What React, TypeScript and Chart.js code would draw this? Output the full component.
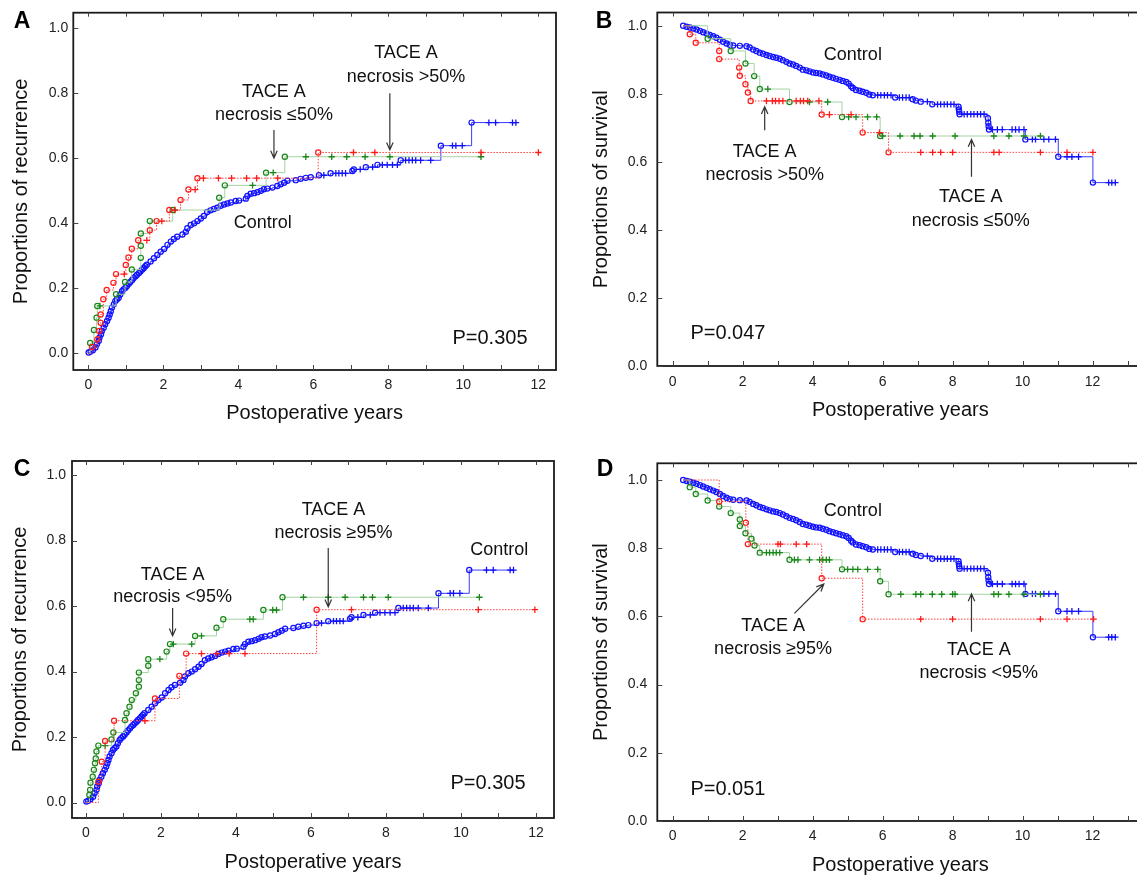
import React, { useEffect, useRef } from 'react';
import { Chart, registerables } from 'chart.js';

Chart.register(...registerables);

const FONT = '"Liberation Sans", Arial, Helvetica, sans-serif';

// rows: [years, proportion, mark]  mark: 1 = event (circle), 0 = censored (+), -1 = curve start
type Row = [number, number, number];

const RECUR_CONTROL: Row[] = [
  [0, 0, -1], [0.01, 0.003, 1], [0.06, 0.006, 1], [0.12, 0.01, 1], [0.19, 0.018, 1], [0.23, 0.029, 1],
  [0.28, 0.039, 1], [0.3, 0.049, 1], [0.34, 0.059, 1], [0.36, 0.069, 1], [0.41, 0.079, 1], [0.45, 0.09, 1],
  [0.5, 0.1, 1], [0.54, 0.11, 1], [0.57, 0.12, 1], [0.6, 0.13, 1], [0.63, 0.141, 1], [0.68, 0.151, 1],
  [0.72, 0.161, 1], [0.76, 0.166, 1], [0.81, 0.171, 1], [0.85, 0.181, 1], [0.9, 0.191, 1], [0.94, 0.197, 1],
  [0.99, 0.202, 1], [1.03, 0.207, 1], [1.08, 0.214, 1], [1.12, 0.22, 1], [1.17, 0.226, 1], [1.21, 0.232, 1],
  [1.26, 0.237, 1], [1.3, 0.242, 1], [1.35, 0.247, 1], [1.39, 0.252, 1], [1.44, 0.258, 1], [1.48, 0.263, 1],
  [1.52, 0.268, 1], [1.56, 0.273, 1], [1.66, 0.283, 1], [1.75, 0.293, 1], [1.84, 0.303, 1], [1.93, 0.313, 1],
  [2.02, 0.321, 1], [2.11, 0.334, 1], [2.2, 0.344, 1], [2.28, 0.352, 1], [2.37, 0.359, 1], [2.51, 0.366, 1],
  [2.6, 0.374, 1], [2.64, 0.385, 1], [2.73, 0.395, 1], [2.82, 0.4, 1], [2.91, 0.407, 1], [3.0, 0.415, 1],
  [3.08, 0.423, 1], [3.17, 0.435, 1], [3.26, 0.44, 1], [3.35, 0.444, 1], [3.44, 0.448, 1], [3.53, 0.454, 1],
  [3.62, 0.458, 1], [3.71, 0.461, 1], [3.8, 0.464, 1], [3.93, 0.469, 1], [4.02, 0.47, 1], [4.2, 0.476, 1],
  [4.24, 0.484, 1], [4.33, 0.491, 1], [4.42, 0.493, 1], [4.51, 0.496, 1], [4.6, 0.5, 1], [4.68, 0.505, 1],
  [4.77, 0.507, 1], [4.91, 0.51, 1], [5.04, 0.515, 1], [5.13, 0.52, 1], [5.22, 0.525, 1], [5.31, 0.531, 1],
  [5.53, 0.533, 1], [5.66, 0.537, 1], [5.8, 0.54, 1], [5.93, 0.542, 1], [6.15, 0.548, 1], [6.28, 0.548, 0],
  [6.46, 0.554, 1], [6.6, 0.554, 0], [6.68, 0.554, 0], [6.77, 0.554, 0], [6.86, 0.554, 0], [7.04, 0.561, 1],
  [7.08, 0.566, 1], [7.25, 0.566, 0], [7.4, 0.573, 1], [7.58, 0.573, 0], [7.71, 0.58, 1], [7.84, 0.58, 0],
  [7.97, 0.58, 0], [8.11, 0.58, 0], [8.24, 0.58, 0], [8.33, 0.594, 1], [8.46, 0.594, 0], [8.55, 0.594, 0],
  [8.64, 0.594, 0], [8.73, 0.594, 0], [8.86, 0.594, 0], [9.13, 0.594, 0], [9.4, 0.639, 1], [9.71, 0.639, 0],
  [9.8, 0.639, 0], [9.97, 0.639, 0], [10.22, 0.71, 1], [10.68, 0.71, 0], [10.86, 0.71, 0], [11.31, 0.71, 0],
  [11.4, 0.71, 0],
];

const RECUR_NEC_GT50: Row[] = [
  [0, 0, -1], [0.1, 0.02, 1], [0.24, 0.043, 1], [0.29, 0.069, 1], [0.33, 0.094, 1], [0.33, 0.12, 1],
  [0.4, 0.167, 1], [0.49, 0.195, 1], [0.67, 0.217, 1], [0.74, 0.244, 1], [0.96, 0.244, 0], [1.0, 0.272, 1],
  [1.07, 0.295, 1], [1.16, 0.322, 1], [1.33, 0.348, 1], [1.56, 0.348, 0], [1.64, 0.379, 1], [1.82, 0.407, 1],
  [1.96, 0.407, 0], [2.16, 0.441, 1], [2.3, 0.441, 0], [2.46, 0.472, 1], [2.67, 0.504, 1], [2.85, 0.504, 0],
  [2.91, 0.539, 1], [3.07, 0.539, 0], [3.47, 0.539, 0], [3.82, 0.539, 0], [4.22, 0.539, 0], [4.49, 0.539, 0],
  [5.05, 0.539, 0], [6.13, 0.618, 1], [7.07, 0.618, 0], [7.64, 0.618, 0], [10.47, 0.618, 0], [12.0, 0.618, 0],
];

const RECUR_NEC_LE50: Row[] = [
  [0, 0, -1], [0.05, 0.032, 1], [0.15, 0.072, 1], [0.22, 0.11, 1], [0.24, 0.146, 1], [0.31, 0.146, 0],
  [0.74, 0.182, 1], [0.98, 0.22, 1], [1.16, 0.258, 1], [1.4, 0.294, 1], [1.4, 0.331, 1], [1.4, 0.369, 1],
  [1.64, 0.407, 1], [2.25, 0.441, 1], [2.31, 0.441, 0], [3.49, 0.479, 1], [3.64, 0.517, 1], [4.38, 0.517, 0],
  [4.74, 0.556, 1], [4.93, 0.556, 0], [5.24, 0.605, 1], [5.8, 0.605, 0], [6.49, 0.605, 0], [6.89, 0.605, 0],
  [7.38, 0.605, 0], [8.04, 0.605, 0], [10.47, 0.605, 0],
];

const RECUR_NEC_GE95: Row[] = [
  [0, 0, -1], [0.33, 0.064, 1], [0.42, 0.125, 1], [0.51, 0.188, 1], [0.75, 0.25, 1], [1.57, 0.25, 0],
  [1.84, 0.318, 1], [2.49, 0.387, 1], [2.67, 0.455, 1], [3.08, 0.455, 0], [3.48, 0.455, 0], [3.82, 0.455, 0],
  [4.24, 0.455, 0], [6.15, 0.589, 1], [7.08, 0.589, 0], [10.46, 0.589, 0], [11.97, 0.589, 0],
];

const RECUR_NEC_LT95: Row[] = [
  [0, 0, -1], [0.09, 0.023, 1], [0.11, 0.039, 1], [0.12, 0.061, 1], [0.18, 0.079, 1], [0.21, 0.1, 1],
  [0.24, 0.12, 1], [0.26, 0.135, 1], [0.28, 0.156, 1], [0.33, 0.174, 1], [0.51, 0.174, 0], [0.68, 0.193, 1],
  [0.73, 0.214, 1], [1.04, 0.252, 1], [1.08, 0.273, 1], [1.16, 0.293, 1], [1.22, 0.313, 1], [1.33, 0.334, 1],
  [1.41, 0.354, 1], [1.41, 0.374, 1], [1.41, 0.397, 1], [1.66, 0.418, 1], [1.66, 0.438, 1], [1.97, 0.438, 0],
  [2.15, 0.461, 1], [2.24, 0.484, 1], [2.33, 0.484, 0], [2.82, 0.484, 0], [2.91, 0.509, 1], [3.08, 0.509, 0],
  [3.48, 0.534, 1], [3.66, 0.56, 1], [4.37, 0.56, 0], [4.46, 0.56, 0], [4.73, 0.588, 1], [4.98, 0.588, 0],
  [5.08, 0.588, 0], [5.24, 0.627, 1], [5.8, 0.627, 0], [6.46, 0.627, 0], [6.91, 0.627, 0], [7.4, 0.627, 0],
  [7.64, 0.627, 0], [8.06, 0.627, 0], [10.49, 0.627, 0],
];

const SURV_CONTROL: Row[] = [
  [0.3, 1.0, 1], [0.4, 0.997, 1], [0.49, 0.995, 1], [0.59, 0.992, 1], [0.68, 0.989, 1], [0.78, 0.985, 1],
  [0.87, 0.981, 1], [0.97, 0.977, 1], [1.06, 0.973, 1], [1.16, 0.969, 1], [1.25, 0.965, 1], [1.35, 0.959, 1],
  [1.44, 0.953, 1], [1.54, 0.948, 1], [1.63, 0.944, 1], [1.73, 0.942, 1], [1.92, 0.941, 1], [2.11, 0.94, 1],
  [2.2, 0.936, 1], [2.3, 0.93, 1], [2.39, 0.926, 1], [2.49, 0.921, 1], [2.58, 0.918, 1], [2.68, 0.914, 1],
  [2.77, 0.911, 1], [2.87, 0.908, 1], [2.96, 0.906, 1], [3.06, 0.903, 1], [3.15, 0.899, 1], [3.25, 0.894, 1],
  [3.34, 0.889, 1], [3.44, 0.886, 1], [3.53, 0.882, 1], [3.63, 0.877, 1], [3.72, 0.871, 1], [3.82, 0.869, 1],
  [3.91, 0.866, 1], [4.01, 0.863, 1], [4.1, 0.861, 1], [4.2, 0.86, 1], [4.29, 0.857, 1], [4.39, 0.854, 1],
  [4.48, 0.85, 1], [4.58, 0.847, 1], [4.67, 0.844, 1], [4.77, 0.841, 1], [4.86, 0.838, 1], [4.96, 0.835, 1],
  [5.03, 0.83, 1], [5.1, 0.822, 1], [5.15, 0.817, 1], [5.24, 0.811, 1], [5.34, 0.809, 1], [5.43, 0.806, 1],
  [5.53, 0.803, 1], [5.62, 0.798, 1], [5.72, 0.796, 1], [5.86, 0.796, 0], [5.95, 0.796, 0], [6.05, 0.796, 0],
  [6.14, 0.796, 0], [6.24, 0.796, 0], [6.36, 0.789, 1], [6.48, 0.789, 0], [6.57, 0.789, 0], [6.67, 0.789, 0],
  [6.76, 0.789, 0], [6.86, 0.784, 1], [6.95, 0.78, 1], [7.09, 0.777, 1], [7.28, 0.777, 0], [7.42, 0.769, 1],
  [7.57, 0.769, 0], [7.66, 0.769, 0], [7.76, 0.769, 0], [7.85, 0.769, 0], [7.95, 0.769, 0], [8.04, 0.769, 0],
  [8.17, 0.762, 1], [8.18, 0.754, 1], [8.19, 0.747, 1], [8.2, 0.74, 1], [8.33, 0.74, 0], [8.42, 0.74, 0],
  [8.52, 0.74, 0], [8.61, 0.74, 0], [8.71, 0.74, 0], [8.8, 0.74, 0], [8.9, 0.74, 0], [9.01, 0.728, 1],
  [9.02, 0.715, 1], [9.03, 0.705, 1], [9.04, 0.695, 1], [9.14, 0.695, 0], [9.28, 0.695, 0], [9.42, 0.695, 0],
  [9.7, 0.695, 0], [9.8, 0.695, 0], [9.9, 0.695, 0], [10.04, 0.695, 0], [10.08, 0.666, 1], [10.28, 0.666, 0],
  [10.37, 0.666, 0], [10.61, 0.666, 0], [10.75, 0.666, 0], [10.94, 0.666, 0], [11.02, 0.615, 1], [11.27, 0.615, 0],
  [11.41, 0.615, 0], [11.6, 0.615, 0], [12.01, 0.539, 1], [12.46, 0.539, 0], [12.55, 0.539, 0], [12.65, 0.539, 0],
];

const SURV_NEC_GT50: Row[] = [
  [0.3, 1, -1], [0.49, 0.975, 1], [0.66, 0.95, 1], [1.33, 0.926, 1], [1.33, 0.902, 1], [1.9, 0.877, 1],
  [1.92, 0.853, 1], [2.08, 0.828, 1], [2.15, 0.804, 1], [2.23, 0.779, 1], [2.68, 0.779, 0], [2.85, 0.779, 0],
  [2.94, 0.779, 0], [3.04, 0.779, 0], [3.15, 0.779, 0], [3.53, 0.779, 0], [3.65, 0.779, 0], [3.74, 0.779, 0],
  [3.86, 0.779, 0], [4.18, 0.779, 0], [4.26, 0.739, 1], [4.48, 0.739, 0], [5.1, 0.739, 0], [5.43, 0.686, 1],
  [5.91, 0.686, 0], [6.17, 0.628, 1], [7.09, 0.628, 0], [7.43, 0.628, 0], [7.66, 0.628, 0], [8.0, 0.628, 0],
  [9.18, 0.628, 0], [9.33, 0.628, 0], [10.51, 0.628, 0], [11.27, 0.628, 0], [12.01, 0.628, 0],
];

const SURV_NEC_LE50: Row[] = [
  [0.3, 1, -1], [1.0, 0.962, 1], [1.66, 0.926, 1], [2.08, 0.889, 1], [2.33, 0.852, 1], [2.49, 0.814, 1],
  [2.72, 0.814, 0], [3.34, 0.776, 1], [3.91, 0.776, 0], [4.43, 0.776, 0], [4.84, 0.732, 1], [5.03, 0.732, 0],
  [5.24, 0.732, 0], [5.57, 0.732, 0], [5.83, 0.732, 0], [5.93, 0.676, 1], [6.0, 0.676, 0], [6.5, 0.676, 0],
  [6.9, 0.676, 0], [7.07, 0.676, 0], [7.43, 0.676, 0], [8.07, 0.676, 0], [9.18, 0.676, 0], [9.61, 0.676, 0],
  [10.04, 0.676, 0], [10.51, 0.676, 0],
];

const SURV_NEC_GE95: Row[] = [
  [0.3, 1, -1], [1.33, 0.937, 1], [2.09, 0.875, 1], [2.15, 0.812, 1], [3.01, 0.812, 0], [3.08, 0.812, 0],
  [3.53, 0.812, 0], [3.83, 0.812, 0], [4.26, 0.712, 1], [5.43, 0.592, 1], [7.09, 0.592, 0], [8.0, 0.592, 0],
  [10.51, 0.592, 0], [11.27, 0.592, 0], [12.03, 0.592, 0],
];

const SURV_NEC_LT95: Row[] = [
  [0.3, 1, -1], [0.49, 0.979, 1], [0.66, 0.959, 1], [1.0, 0.94, 1], [1.33, 0.922, 1], [1.66, 0.903, 1],
  [1.92, 0.884, 1], [1.92, 0.865, 1], [2.08, 0.844, 1], [2.25, 0.828, 1], [2.34, 0.808, 1], [2.49, 0.787, 1],
  [2.68, 0.787, 0], [2.77, 0.787, 0], [2.87, 0.787, 0], [2.96, 0.787, 0], [3.06, 0.787, 0], [3.34, 0.766, 1],
  [3.48, 0.766, 0], [3.58, 0.766, 0], [3.91, 0.766, 0], [4.2, 0.766, 0], [4.29, 0.766, 0], [4.39, 0.766, 0],
  [4.48, 0.766, 0], [4.84, 0.738, 1], [5.0, 0.738, 0], [5.15, 0.738, 0], [5.29, 0.738, 0], [5.57, 0.738, 0],
  [5.86, 0.738, 0], [5.93, 0.703, 1], [6.17, 0.665, 1], [6.52, 0.665, 0], [6.95, 0.665, 0], [7.09, 0.665, 0],
  [7.42, 0.665, 0], [7.69, 0.665, 0], [8.0, 0.665, 0], [8.07, 0.665, 0], [9.18, 0.665, 0], [9.31, 0.665, 0],
  [9.61, 0.665, 0], [10.04, 0.665, 0], [10.51, 0.665, 0],
];

const X_LABELS = [0, 2, 4, 6, 8, 10, 12];
const Y_LABELS = [0, 0.2, 0.4, 0.6, 0.8, 1.0];

// annotations: [text, years, proportion]
const NOTES_A: [string, number, number][] = [
  ['TACE A', 4.95, 0.805], ['necrosis \u226450%', 4.95, 0.733],
  ['TACE A', 8.47, 0.924], ['necrosis >50%', 8.47, 0.85],
  ['Control', 4.65, 0.401],
];
const ARROWS_A: [number, number, number, number][] = [[4.95, 0.687, 4.95, 0.601], [8.04, 0.8, 8.04, 0.626]];
const P_A: [string, number, number] = ['P=0.305', 10.71, 0.047];

const NOTES_B: [string, number, number][] = [
  ['Control', 5.15, 0.913],
  ['TACE A', 2.63, 0.629], ['necrosis >50%', 2.63, 0.561],
  ['TACE A', 8.52, 0.497], ['necrosis \u226450%', 8.52, 0.427],
];
const ARROWS_B: [number, number, number, number][] = [[2.63, 0.693, 2.63, 0.762], [8.54, 0.556, 8.54, 0.666]];
const P_B: [string, number, number] = ['P=0.047', 1.58, 0.096];

const NOTES_C: [string, number, number][] = [
  ['TACE A', 2.31, 0.695], ['necrosis <95%', 2.31, 0.627],
  ['TACE A', 6.6, 0.892], ['necrosis \u226595%', 6.6, 0.824],
  ['Control', 11.02, 0.77],
];
const ARROWS_C: [number, number, number, number][] = [[2.31, 0.594, 2.31, 0.509], [6.46, 0.777, 6.46, 0.598]];
const P_C: [string, number, number] = ['P=0.305', 10.72, 0.057];

const NOTES_D: [string, number, number][] = [
  ['Control', 5.15, 0.91],
  ['TACE A', 2.87, 0.573], ['necrosis \u226595%', 2.87, 0.504],
  ['TACE A', 8.75, 0.501], ['necrosis <95%', 8.75, 0.435],
];
const ARROWS_D: [number, number, number, number][] = [[3.48, 0.609, 4.32, 0.695], [8.54, 0.555, 8.54, 0.666]];
const P_D: [string, number, number] = ['P=0.051', 1.58, 0.093];

const BLUE = '#1010ff';
const BLUE_LINE = '#3a3aff';
const RED = '#ff1a1a';
const RED_LINE = '#ff4040';
const GREEN = '#1a871a';
const GREEN_LINE = '#a3d3a3';

function km(rows: Row[], mark: string, line: string, dash: number[]) {
  return {
    data: rows.map((r) => ({ x: r[0], y: r[1] })),
    stepped: true,
    borderColor: line,
    borderWidth: 1,
    borderDash: dash,
    fill: false,
    tension: 0,
    pointStyle: rows.map((r) => (r[2] === 0 ? 'cross' : 'circle')),
    pointRadius: rows.map((r) => (r[2] < 0 ? 0 : r[2] === 0 ? 3.2 : 2.6)),
    pointBorderWidth: rows.map((r) => (r[2] === 0 ? 1.3 : 1.2)),
    pointBorderColor: mark,
    pointBackgroundColor: 'rgba(255,255,255,0)',
    pointHoverRadius: 0,
  };
}

interface PanelCfg {
  key: string;
  left: number; top: number; w: number; h: number;
  area: { l: number; t: number; r: number; b: number };
  x: [number, number]; y: [number, number];
  xTickMax: number;
  yTitle: string;
  yTitlePad: number; xTitlePad: number; yTickPad: number; xTickPad: number;
  letter: string; letterPos: [number, number];
  series: Row[][];
  notes: [string, number, number][];
  arrows: [number, number, number, number][];
  p: [string, number, number];
}

const PANELS: PanelCfg[] = [
  {
    key: 'A', left: 0, top: 0, w: 568, h: 440, area: { l: 73.3, t: 12.7, r: 556, b: 370 },
    x: [-0.4, 12.47], y: [-0.051, 1.048], xTickMax: 12, yTitle: 'Proportions of recurrence',
    yTitlePad: 9, xTitlePad: 15, yTickPad: 5, xTickPad: 7, letter: 'A', letterPos: [22, 22],
    series: [RECUR_NEC_GT50, RECUR_NEC_LE50, RECUR_CONTROL], notes: NOTES_A, arrows: ARROWS_A, p: P_A,
  },
  {
    key: 'B', left: 568, top: 0, w: 580, h: 440, area: { l: 89.3, t: 12.5, r: 577, b: 366 },
    x: [-0.439, 13.456], y: [0, 1.039], xTickMax: 13, yTitle: 'Proportions of survival',
    yTitlePad: 21, xTitlePad: 18, yTickPad: 10, xTickPad: 7.5, letter: 'B', letterPos: [36, 22],
    series: [SURV_NEC_GT50, SURV_NEC_LE50, SURV_CONTROL], notes: NOTES_B, arrows: ARROWS_B, p: P_B,
  },
  {
    key: 'C', left: 0, top: 440, w: 568, h: 439, area: { l: 72, t: 21, r: 554, b: 378 },
    x: [-0.373, 12.48], y: [-0.047, 1.043], xTickMax: 12, yTitle: 'Proportions of recurrence',
    yTitlePad: 8, xTitlePad: 5, yTickPad: 6, xTickPad: 6.6, letter: 'C', letterPos: [22, 30],
    series: [RECUR_NEC_GE95, RECUR_NEC_LT95, RECUR_CONTROL], notes: NOTES_C, arrows: ARROWS_C, p: P_C,
  },
  {
    key: 'D', left: 568, top: 440, w: 580, h: 439, area: { l: 89.3, t: 23.3, r: 577, b: 381 },
    x: [-0.439, 13.456], y: [0, 1.049], xTickMax: 13, yTitle: 'Proportions of survival',
    yTitlePad: 21, xTitlePad: 2, yTickPad: 10, xTickPad: 6.6, letter: 'D', letterPos: [37, 30],
    series: [SURV_NEC_GE95, SURV_NEC_LT95, SURV_CONTROL], notes: NOTES_D, arrows: ARROWS_D, p: P_D,
  },
];

function makeDecor(cfg: PanelCfg) {
  return {
    id: 'decor' + cfg.key,
    afterDraw(chart: any) {
      const { ctx, chartArea: a, scales } = chart;
      const xs = scales.x;
      const ys = scales.y;
      ctx.save();
      // frame
      ctx.strokeStyle = '#1a1a1a';
      ctx.lineWidth = 1.8;
      ctx.strokeRect(a.left, a.top, a.right - a.left, a.bottom - a.top);
      // inward ticks
      ctx.lineWidth = 1;
      ctx.strokeStyle = '#444';
      ctx.beginPath();
      for (let v = 0; v <= cfg.xTickMax; v++) {
        const px = Math.round(xs.getPixelForValue(v)) + 0.5;
        ctx.moveTo(px, a.bottom);
        ctx.lineTo(px, a.bottom - 5);
        ctx.moveTo(px, a.top);
        ctx.lineTo(px, a.top + 4);
      }
      for (const v of Y_LABELS) {
        const py = Math.round(ys.getPixelForValue(v)) + 0.5;
        ctx.moveTo(a.left, py);
        ctx.lineTo(a.left + 5, py);
      }
      ctx.stroke();
      // annotations
      ctx.fillStyle = '#111';
      ctx.textAlign = 'center';
      ctx.textBaseline = 'middle';
      ctx.font = `18px ${FONT}`;
      for (const n of cfg.notes) {
        ctx.fillText(n[0], xs.getPixelForValue(n[1]), ys.getPixelForValue(n[2]));
      }
      ctx.strokeStyle = '#333';
      ctx.lineWidth = 1.2;
      for (const ar of cfg.arrows) {
        const x1 = xs.getPixelForValue(ar[0]);
        const y1 = ys.getPixelForValue(ar[1]);
        const x2 = xs.getPixelForValue(ar[2]);
        const y2 = ys.getPixelForValue(ar[3]);
        const ang = Math.atan2(y2 - y1, x2 - x1);
        const hl = 8;
        const spread = 0.42;
        ctx.beginPath();
        ctx.moveTo(x1, y1);
        ctx.lineTo(x2, y2);
        ctx.moveTo(x2 - hl * Math.cos(ang - spread), y2 - hl * Math.sin(ang - spread));
        ctx.lineTo(x2, y2);
        ctx.lineTo(x2 - hl * Math.cos(ang + spread), y2 - hl * Math.sin(ang + spread));
        ctx.stroke();
      }
      ctx.font = `20px ${FONT}`;
      ctx.fillText(cfg.p[0], xs.getPixelForValue(cfg.p[1]), ys.getPixelForValue(cfg.p[2]));
      // panel letter
      ctx.font = `bold 23px ${FONT}`;
      ctx.fillStyle = '#000';
      ctx.fillText(cfg.letter, cfg.letterPos[0], cfg.letterPos[1]);
      ctx.restore();
    },
  };
}

function zeroPad(s: any) {
  s.paddingTop = 0;
  s.paddingBottom = 0;
  s.paddingLeft = 0;
  s.paddingRight = 0;
}

function Panel({ cfg }: { cfg: PanelCfg }) {
  const ref = useRef<HTMLCanvasElement>(null);
  useEffect(() => {
    const canvas = ref.current;
    if (!canvas) return;
    const [redRows, greenRows, blueRows] = cfg.series;
    const chart = new Chart(canvas, {
      type: 'line',
      data: {
        datasets: [
          km(redRows, RED, RED_LINE, [1.5, 1.5]),
          km(greenRows, GREEN, GREEN_LINE, []),
          km(blueRows, BLUE, BLUE_LINE, []),
        ] as any,
      },
      options: {
        responsive: false,
        animation: false,
        events: [],
        devicePixelRatio: 1,
        layout: { padding: { left: 0, top: cfg.area.t, right: cfg.w - cfg.area.r, bottom: 0 } },
        plugins: { legend: { display: false }, tooltip: { enabled: false } },
        scales: {
          x: {
            type: 'linear',
            min: cfg.x[0],
            max: cfg.x[1],
            afterBuildTicks: (s: any) => { s.ticks = X_LABELS.map((v) => ({ value: v })); },
            afterFit: (s: any) => { s.height = cfg.h - cfg.area.b; zeroPad(s); },
            ticks: {
              font: { family: FONT, size: 14 },
              color: '#222',
              padding: cfg.xTickPad,
              maxRotation: 0,
              autoSkip: false,
              callback: (v: any) => String(v),
            },
            grid: { display: false, drawTicks: false },
            border: { display: false },
            title: {
              display: true,
              text: 'Postoperative years',
              font: { family: FONT, size: 20 },
              color: '#111',
              padding: { top: 0, bottom: cfg.xTitlePad },
            },
          },
          y: {
            type: 'linear',
            min: cfg.y[0],
            max: cfg.y[1],
            afterBuildTicks: (s: any) => { s.ticks = Y_LABELS.map((v) => ({ value: v })); },
            afterFit: (s: any) => { s.width = cfg.area.l; zeroPad(s); },
            ticks: {
              font: { family: FONT, size: 14 },
              color: '#222',
              padding: cfg.yTickPad,
              autoSkip: false,
              callback: (v: any) => Number(v).toFixed(1),
            },
            grid: { display: false, drawTicks: false },
            border: { display: false },
            title: {
              display: true,
              text: cfg.yTitle,
              font: { family: FONT, size: 20 },
              color: '#111',
              padding: { top: cfg.yTitlePad, bottom: 0 },
            },
          },
        },
      },
      plugins: [makeDecor(cfg)],
    } as any);
    return () => chart.destroy();
  }, [cfg]);
  return (
    <canvas
      ref={ref}
      width={cfg.w}
      height={cfg.h}
      style={{ position: 'absolute', left: cfg.left, top: cfg.top, width: cfg.w, height: cfg.h }}
    />
  );
}

export default function App() {
  return (
    <div
      style={{
        position: 'absolute', left: 0, top: 0, width: 1137, height: 879,
        overflow: 'hidden', background: '#fff',
      }}
    >
      {PANELS.map((p) => (
        <Panel key={p.key} cfg={p} />
      ))}
    </div>
  );
}
